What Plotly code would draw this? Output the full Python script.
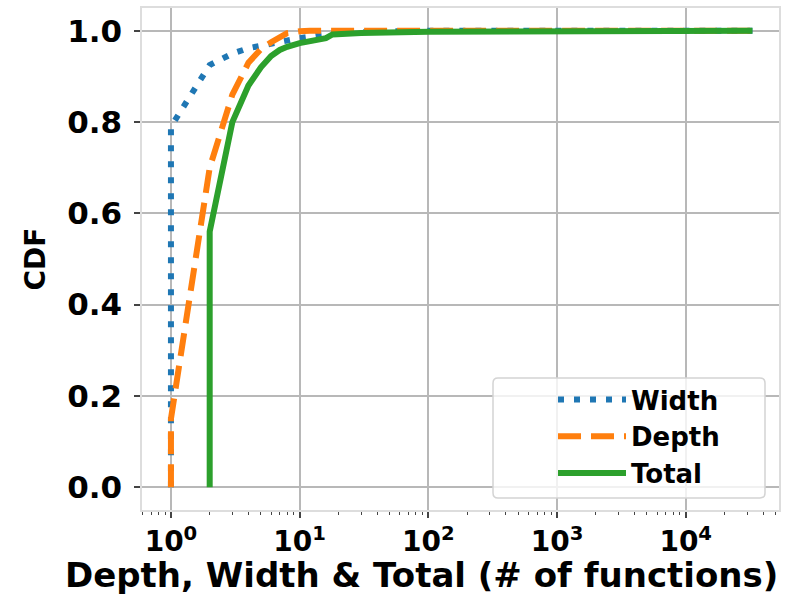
import plotly.graph_objects as go

# Data (CDF of # of functions)
width_x = [1, 1, 2, 3, 4, 5, 6, 8, 10, 12, 15, 20, 50, 100, 33000]
width_y = [0, 0.79, 0.925, 0.95, 0.962, 0.968, 0.973, 0.979, 0.984, 0.987, 0.992, 0.996, 0.999, 1.0, 1.0]

depth_x = [1, 1, 2, 3, 4, 5, 6, 7, 8, 10, 12, 33000]
depth_y = [0, 0.15, 0.70, 0.86, 0.93, 0.96, 0.975, 0.986, 0.995, 0.999, 1.0, 1.0]

total_x = [2, 2, 3, 4, 5, 6, 7, 8, 10, 12, 16, 18, 30, 100, 1000, 33000]
total_y = [0, 0.56, 0.80, 0.88, 0.92, 0.945, 0.958, 0.965, 0.973, 0.978, 0.984, 0.992, 0.995, 0.998, 0.9995, 1.0]

x_tickvals = [1, 10, 100, 1000, 10000]
x_ticktext = ["10<sup>0</sup>", "10<sup>1</sup>", "10<sup>2</sup>", "10<sup>3</sup>", "10<sup>4</sup>"]
y_tickvals = [0.0, 0.2, 0.4, 0.6, 0.8, 1.0]

x_title = "Depth, Width & Total (# of functions)"
y_title = "CDF"

FONT = "DejaVu Sans"
W, H = 799, 594
ML, MR, MT, MB = 142, 20, 8, 84
PW, PH = W - ML - MR, H - MT - MB


def px_to_paper(xp, yp):
    return (xp - ML) / PW, (H - MB - yp) / PH


fig = go.Figure()
fig.add_trace(go.Scatter(x=width_x, y=width_y, mode="lines", name="Width",
                         line=dict(color="#1f77b4", width=6, dash="6px,10px")))
fig.add_trace(go.Scatter(x=depth_x, y=depth_y, mode="lines", name="Depth",
                         line=dict(color="#ff7f0e", width=6, dash="23px,10px")))
fig.add_trace(go.Scatter(x=total_x, y=total_y, mode="lines", name="Total",
                         line=dict(color="#2ca02c", width=6)))

# legend frame (rounded, semi-transparent like matplotlib's)
x0, y1 = px_to_paper(493, 378)
x1, y0 = px_to_paper(765, 498)
rx, ry = 5 / PW, 5 / PH
path = (f"M{x0+rx},{y0} L{x1-rx},{y0} Q{x1},{y0} {x1},{y0+ry} "
        f"L{x1},{y1-ry} Q{x1},{y1} {x1-rx},{y1} L{x0+rx},{y1} Q{x0},{y1} {x0},{y1-ry} "
        f"L{x0},{y0+ry} Q{x0},{y0} {x0+rx},{y0} Z")
fig.add_shape(type="path", path=path, xref="paper", yref="paper", layer="above",
              fillcolor="rgba(255,255,255,0.8)", line=dict(color="#d4d4d4", width=1.5))

lx, ly = px_to_paper(553, 376)

# x-axis title (matplotlib placed it centred on the whole label box)
tx, ty = px_to_paper(421, 575)
fig.add_annotation(text=x_title, x=tx, y=ty, xref="paper", yref="paper",
                   xanchor="center", yanchor="middle", showarrow=False,
                   font=dict(family=FONT, size=34, weight="bold", color="black"))

fig.update_layout(
    width=W, height=H,
    margin=dict(l=ML, r=MR, t=MT, b=MB),
    paper_bgcolor="white", plot_bgcolor="white",
    font=dict(family=FONT, color="black", weight="bold"),
    showlegend=True,
    legend=dict(x=lx, y=ly, xanchor="left", yanchor="top",
                bgcolor="rgba(0,0,0,0)", borderwidth=0,
                font=dict(family=FONT, size=26, weight="bold", color="black"),
                itemwidth=68, tracegroupgap=0),
)
fig.update_xaxes(
    type="log", range=[-0.225, 4.725], automargin=False,
    tickvals=x_tickvals, ticktext=x_ticktext,
    tickfont=dict(family=FONT, size=28, weight="bold", color="black"),
    ticks="outside", ticklen=6, tickcolor="#444", tickwidth=1.5,
    minor=dict(ticks="outside", ticklen=3, tickcolor="#444", tickwidth=1, dtick="D1", showgrid=False),
    showgrid=True, gridcolor="#b8b8b8", gridwidth=1.5,
    showline=True, linecolor="#dddddd", linewidth=1.5, mirror=True,
    zeroline=False,
)
fig.update_yaxes(
    range=[-0.05, 1.05], automargin=False,
    tickvals=y_tickvals, tickformat=".1f",
    tickfont=dict(family=FONT, size=31, weight="bold", color="black"),
    ticks="outside", ticklen=6, tickcolor="#444", tickwidth=1.5,
    ticklabelstandoff=6,
    showgrid=True, gridcolor="#b8b8b8", gridwidth=1.5,
    showline=True, linecolor="#dddddd", linewidth=1.5, mirror=True,
    zeroline=False,
    title=dict(text=y_title, font=dict(family=FONT, size=28, weight="bold", color="black"), standoff=13),
)

fig.write_html("out.html", config={"displayModeBar": False},
               post_script="document.body.style.margin='0px';")
